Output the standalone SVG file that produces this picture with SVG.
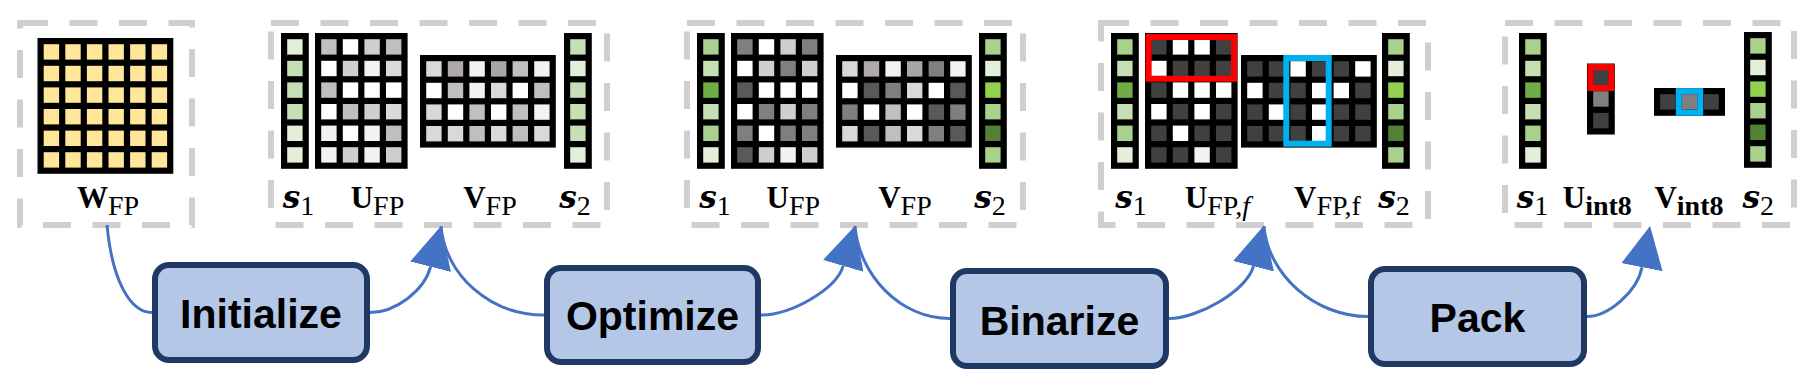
<svg xmlns="http://www.w3.org/2000/svg" width="1816" height="387" viewBox="0 0 1816 387">
<style>
.bg{fill:#fff}
.dash{fill:none;stroke:#D0CECE;stroke-width:6;stroke-dasharray:28 21.5}
.mx{fill:#000}
.proc{fill:#B4C7E7;stroke:#1F3864;stroke-width:6}
.ptxt{font-family:"Liberation Sans",Arial,sans-serif;font-weight:bold;font-size:41px;text-anchor:middle;fill:#000}
.lab{font-family:"Liberation Serif","Times New Roman",serif;font-size:31px;font-weight:bold;text-anchor:middle;fill:#000}
.si{font-family:"DejaVu Serif",serif;font-style:italic;font-weight:bold}
.sub{font-size:28px;font-weight:normal}
.subb{font-size:28px;font-weight:bold}
.ital{font-style:italic}
.conn{fill:none;stroke:#4472C4;stroke-width:3}
.red{fill:none;stroke:#FF0000;stroke-width:6}
.blue{fill:none;stroke:#00B0F0;stroke-width:6}
</style>
<defs>
<marker id="ah" markerUnits="userSpaceOnUse" markerWidth="42" markerHeight="42" refX="0" refY="21" orient="auto" viewBox="0 0 42 42"><path d="M0,0 L42,21 L0,42 Z" fill="#4472C4"/></marker>
<rect id="c" width="15.4" height="15.4"/>
</defs>
<rect class="bg" x="0" y="0" width="1816" height="387"/>

<g id="box-wfp">
<rect class="dash" x="20" y="23" width="172" height="202"/>
<rect class="mx" x="37.5" y="38" width="135.8" height="135.8"/>
<g fill="#FFE699">
<use href="#c" x="43.7" y="44.2"/><use href="#c" x="65.3" y="44.2"/><use href="#c" x="86.9" y="44.2"/><use href="#c" x="108.5" y="44.2"/><use href="#c" x="130.1" y="44.2"/><use href="#c" x="151.7" y="44.2"/>
<use href="#c" x="43.7" y="65.8"/><use href="#c" x="65.3" y="65.8"/><use href="#c" x="86.9" y="65.8"/><use href="#c" x="108.5" y="65.8"/><use href="#c" x="130.1" y="65.8"/><use href="#c" x="151.7" y="65.8"/>
<use href="#c" x="43.7" y="87.4"/><use href="#c" x="65.3" y="87.4"/><use href="#c" x="86.9" y="87.4"/><use href="#c" x="108.5" y="87.4"/><use href="#c" x="130.1" y="87.4"/><use href="#c" x="151.7" y="87.4"/>
<use href="#c" x="43.7" y="109"/><use href="#c" x="65.3" y="109"/><use href="#c" x="86.9" y="109"/><use href="#c" x="108.5" y="109"/><use href="#c" x="130.1" y="109"/><use href="#c" x="151.7" y="109"/>
<use href="#c" x="43.7" y="130.6"/><use href="#c" x="65.3" y="130.6"/><use href="#c" x="86.9" y="130.6"/><use href="#c" x="108.5" y="130.6"/><use href="#c" x="130.1" y="130.6"/><use href="#c" x="151.7" y="130.6"/>
<use href="#c" x="43.7" y="152.2"/><use href="#c" x="65.3" y="152.2"/><use href="#c" x="86.9" y="152.2"/><use href="#c" x="108.5" y="152.2"/><use href="#c" x="130.1" y="152.2"/><use href="#c" x="151.7" y="152.2"/>
</g>
<text class="lab" x="108" y="208">W<tspan class="sub" dy="7">FP</tspan></text>
</g>

<g id="box-init-result">
<rect class="dash" x="271" y="23" width="336" height="202"/>
<rect class="mx" x="281" y="33" width="27.8" height="135.8"/>
<use href="#c" x="287.2" y="39.2" fill="#E2F0D9"/><use href="#c" x="287.2" y="60.8" fill="#C5E0B4"/><use href="#c" x="287.2" y="82.4" fill="#C5E0B4"/><use href="#c" x="287.2" y="104" fill="#C5E0B4"/><use href="#c" x="287.2" y="125.6" fill="#E2F0D9"/><use href="#c" x="287.2" y="147.2" fill="#E2F0D9"/>
<rect class="mx" x="315" y="33" width="92.6" height="135.8"/>
<use href="#c" x="321.2" y="39.2" fill="#BFBFBF"/><use href="#c" x="342.8" y="39.2" fill="#FFFFFF"/><use href="#c" x="364.4" y="39.2" fill="#D0CECE"/><use href="#c" x="386" y="39.2" fill="#BFBFBF"/>
<use href="#c" x="321.2" y="60.8" fill="#FFFFFF"/><use href="#c" x="342.8" y="60.8" fill="#D0CECE"/><use href="#c" x="364.4" y="60.8" fill="#F2F2F2"/><use href="#c" x="386" y="60.8" fill="#D9D9D9"/>
<use href="#c" x="321.2" y="82.4" fill="#BFBFBF"/><use href="#c" x="342.8" y="82.4" fill="#FFFFFF"/><use href="#c" x="364.4" y="82.4" fill="#FFFFFF"/><use href="#c" x="386" y="82.4" fill="#FFFFFF"/>
<use href="#c" x="321.2" y="104" fill="#FFFFFF"/><use href="#c" x="342.8" y="104" fill="#BFBFBF"/><use href="#c" x="364.4" y="104" fill="#D0CECE"/><use href="#c" x="386" y="104" fill="#D9D9D9"/>
<use href="#c" x="321.2" y="125.6" fill="#F2F2F2"/><use href="#c" x="342.8" y="125.6" fill="#FFFFFF"/><use href="#c" x="364.4" y="125.6" fill="#F2F2F2"/><use href="#c" x="386" y="125.6" fill="#BFBFBF"/>
<use href="#c" x="321.2" y="147.2" fill="#F2F2F2"/><use href="#c" x="342.8" y="147.2" fill="#D0CECE"/><use href="#c" x="364.4" y="147.2" fill="#F2F2F2"/><use href="#c" x="386" y="147.2" fill="#D0CECE"/>
<rect class="mx" x="420" y="55" width="135.8" height="92.6"/>
<use href="#c" x="426.2" y="61.2" fill="#D9D9D9"/><use href="#c" x="447.8" y="61.2" fill="#AEAAAA"/><use href="#c" x="469.4" y="61.2" fill="#F2F2F2"/><use href="#c" x="491" y="61.2" fill="#A6A6A6"/><use href="#c" x="512.6" y="61.2" fill="#BFBFBF"/><use href="#c" x="534.2" y="61.2" fill="#F2F2F2"/>
<use href="#c" x="426.2" y="82.8" fill="#FFFFFF"/><use href="#c" x="447.8" y="82.8" fill="#BFBFBF"/><use href="#c" x="469.4" y="82.8" fill="#F2F2F2"/><use href="#c" x="491" y="82.8" fill="#D9D9D9"/><use href="#c" x="512.6" y="82.8" fill="#FFFFFF"/><use href="#c" x="534.2" y="82.8" fill="#BFBFBF"/>
<use href="#c" x="426.2" y="104.4" fill="#D9D9D9"/><use href="#c" x="447.8" y="104.4" fill="#FFFFFF"/><use href="#c" x="469.4" y="104.4" fill="#BFBFBF"/><use href="#c" x="491" y="104.4" fill="#FFFFFF"/><use href="#c" x="512.6" y="104.4" fill="#BFBFBF"/><use href="#c" x="534.2" y="104.4" fill="#F2F2F2"/>
<use href="#c" x="426.2" y="126" fill="#D9D9D9"/><use href="#c" x="447.8" y="126" fill="#D9D9D9"/><use href="#c" x="469.4" y="126" fill="#BFBFBF"/><use href="#c" x="491" y="126" fill="#D9D9D9"/><use href="#c" x="512.6" y="126" fill="#BFBFBF"/><use href="#c" x="534.2" y="126" fill="#D9D9D9"/>
<rect class="mx" x="564" y="33" width="27.8" height="135.8"/>
<use href="#c" x="570.2" y="39.2" fill="#C5E0B4"/><use href="#c" x="570.2" y="60.8" fill="#E2F0D9"/><use href="#c" x="570.2" y="82.4" fill="#C5E0B4"/><use href="#c" x="570.2" y="104" fill="#C5E0B4"/><use href="#c" x="570.2" y="125.6" fill="#C5E0B4"/><use href="#c" x="570.2" y="147.2" fill="#E2F0D9"/>
<text class="lab" x="298.5" y="207.5"><tspan class="si">s</tspan><tspan class="sub" dy="7">1</tspan></text>
<text class="lab" x="377.5" y="207.5">U<tspan class="sub" dy="7">FP</tspan></text>
<text class="lab" x="490" y="207.5">V<tspan class="sub" dy="7">FP</tspan></text>
<text class="lab" x="575" y="207.5"><tspan class="si">s</tspan><tspan class="sub" dy="7">2</tspan></text>
</g>

<g id="box-opt-result">
<rect class="dash" x="687" y="23" width="336" height="202"/>
<rect class="mx" x="697" y="33" width="27.8" height="135.8"/>
<use href="#c" x="703.2" y="39.2" fill="#A9D18E"/><use href="#c" x="703.2" y="60.8" fill="#C5E0B4"/><use href="#c" x="703.2" y="82.4" fill="#70AD47"/><use href="#c" x="703.2" y="104" fill="#C5E0B4"/><use href="#c" x="703.2" y="125.6" fill="#A9D18E"/><use href="#c" x="703.2" y="147.2" fill="#E2F0D9"/>
<rect class="mx" x="731" y="33" width="92.6" height="135.8"/>
<use href="#c" x="737.2" y="39.2" fill="#7F7F7F"/><use href="#c" x="758.8" y="39.2" fill="#FFFFFF"/><use href="#c" x="780.4" y="39.2" fill="#D0CECE"/><use href="#c" x="802" y="39.2" fill="#7F7F7F"/>
<use href="#c" x="737.2" y="60.8" fill="#FFFFFF"/><use href="#c" x="758.8" y="60.8" fill="#D0CECE"/><use href="#c" x="780.4" y="60.8" fill="#7F7F7F"/><use href="#c" x="802" y="60.8" fill="#D0CECE"/>
<use href="#c" x="737.2" y="82.4" fill="#595959"/><use href="#c" x="758.8" y="82.4" fill="#FFFFFF"/><use href="#c" x="780.4" y="82.4" fill="#FFFFFF"/><use href="#c" x="802" y="82.4" fill="#FFFFFF"/>
<use href="#c" x="737.2" y="104" fill="#FFFFFF"/><use href="#c" x="758.8" y="104" fill="#7F7F7F"/><use href="#c" x="780.4" y="104" fill="#D0CECE"/><use href="#c" x="802" y="104" fill="#7F7F7F"/>
<use href="#c" x="737.2" y="125.6" fill="#7F7F7F"/><use href="#c" x="758.8" y="125.6" fill="#FFFFFF"/><use href="#c" x="780.4" y="125.6" fill="#7F7F7F"/><use href="#c" x="802" y="125.6" fill="#7F7F7F"/>
<use href="#c" x="737.2" y="147.2" fill="#595959"/><use href="#c" x="758.8" y="147.2" fill="#D0CECE"/><use href="#c" x="780.4" y="147.2" fill="#F2F2F2"/><use href="#c" x="802" y="147.2" fill="#D0CECE"/>
<rect class="mx" x="836" y="55" width="135.8" height="92.6"/>
<use href="#c" x="842.2" y="61.2" fill="#D9D9D9"/><use href="#c" x="863.8" y="61.2" fill="#AEAAAA"/><use href="#c" x="885.4" y="61.2" fill="#F2F2F2"/><use href="#c" x="907" y="61.2" fill="#A6A6A6"/><use href="#c" x="928.6" y="61.2" fill="#7F7F7F"/><use href="#c" x="950.2" y="61.2" fill="#F2F2F2"/>
<use href="#c" x="842.2" y="82.8" fill="#FFFFFF"/><use href="#c" x="863.8" y="82.8" fill="#595959"/><use href="#c" x="885.4" y="82.8" fill="#7F7F7F"/><use href="#c" x="907" y="82.8" fill="#D9D9D9"/><use href="#c" x="928.6" y="82.8" fill="#FFFFFF"/><use href="#c" x="950.2" y="82.8" fill="#595959"/>
<use href="#c" x="842.2" y="104.4" fill="#7F7F7F"/><use href="#c" x="863.8" y="104.4" fill="#FFFFFF"/><use href="#c" x="885.4" y="104.4" fill="#BFBFBF"/><use href="#c" x="907" y="104.4" fill="#FFFFFF"/><use href="#c" x="928.6" y="104.4" fill="#595959"/><use href="#c" x="950.2" y="104.4" fill="#7F7F7F"/>
<use href="#c" x="842.2" y="126" fill="#D9D9D9"/><use href="#c" x="863.8" y="126" fill="#595959"/><use href="#c" x="885.4" y="126" fill="#BFBFBF"/><use href="#c" x="907" y="126" fill="#D9D9D9"/><use href="#c" x="928.6" y="126" fill="#7F7F7F"/><use href="#c" x="950.2" y="126" fill="#595959"/>
<rect class="mx" x="979" y="33" width="27.8" height="135.8"/>
<use href="#c" x="985.2" y="39.2" fill="#A9D18E"/><use href="#c" x="985.2" y="60.8" fill="#E2F0D9"/><use href="#c" x="985.2" y="82.4" fill="#92D050"/><use href="#c" x="985.2" y="104" fill="#A9D18E"/><use href="#c" x="985.2" y="125.6" fill="#548235"/><use href="#c" x="985.2" y="147.2" fill="#A9D18E"/>
<text class="lab" x="715" y="207.5"><tspan class="si">s</tspan><tspan class="sub" dy="7">1</tspan></text>
<text class="lab" x="793.3" y="207.5">U<tspan class="sub" dy="7">FP</tspan></text>
<text class="lab" x="905" y="207.5">V<tspan class="sub" dy="7">FP</tspan></text>
<text class="lab" x="990" y="207.5"><tspan class="si">s</tspan><tspan class="sub" dy="7">2</tspan></text>
</g>

<g id="box-bin-result">
<rect class="dash" x="1101" y="23" width="327" height="202"/>
<rect class="mx" x="1111" y="33" width="27.8" height="135.8"/>
<use href="#c" x="1117.2" y="39.2" fill="#A9D18E"/><use href="#c" x="1117.2" y="60.8" fill="#C5E0B4"/><use href="#c" x="1117.2" y="82.4" fill="#70AD47"/><use href="#c" x="1117.2" y="104" fill="#C5E0B4"/><use href="#c" x="1117.2" y="125.6" fill="#A9D18E"/><use href="#c" x="1117.2" y="147.2" fill="#E2F0D9"/>
<rect class="mx" x="1145" y="33" width="92.6" height="135.8"/>
<use href="#c" x="1151.2" y="39.2" fill="#404040"/><use href="#c" x="1172.8" y="39.2" fill="#FFFFFF"/><use href="#c" x="1194.4" y="39.2" fill="#FFFFFF"/><use href="#c" x="1216" y="39.2" fill="#404040"/>
<use href="#c" x="1151.2" y="60.8" fill="#FFFFFF"/><use href="#c" x="1172.8" y="60.8" fill="#404040"/><use href="#c" x="1194.4" y="60.8" fill="#404040"/><use href="#c" x="1216" y="60.8" fill="#404040"/>
<use href="#c" x="1151.2" y="82.4" fill="#404040"/><use href="#c" x="1172.8" y="82.4" fill="#FFFFFF"/><use href="#c" x="1194.4" y="82.4" fill="#FFFFFF"/><use href="#c" x="1216" y="82.4" fill="#FFFFFF"/>
<use href="#c" x="1151.2" y="104" fill="#FFFFFF"/><use href="#c" x="1172.8" y="104" fill="#404040"/><use href="#c" x="1194.4" y="104" fill="#FFFFFF"/><use href="#c" x="1216" y="104" fill="#404040"/>
<use href="#c" x="1151.2" y="125.6" fill="#404040"/><use href="#c" x="1172.8" y="125.6" fill="#FFFFFF"/><use href="#c" x="1194.4" y="125.6" fill="#404040"/><use href="#c" x="1216" y="125.6" fill="#404040"/>
<use href="#c" x="1151.2" y="147.2" fill="#404040"/><use href="#c" x="1172.8" y="147.2" fill="#404040"/><use href="#c" x="1194.4" y="147.2" fill="#F2F2F2"/><use href="#c" x="1216" y="147.2" fill="#404040"/>
<rect class="mx" x="1241" y="55" width="135.8" height="92.6"/>
<use href="#c" x="1247.2" y="61.2" fill="#404040"/><use href="#c" x="1268.8" y="61.2" fill="#404040"/><use href="#c" x="1290.4" y="61.2" fill="#FFFFFF"/><use href="#c" x="1312" y="61.2" fill="#404040"/><use href="#c" x="1333.6" y="61.2" fill="#404040"/><use href="#c" x="1355.2" y="61.2" fill="#FFFFFF"/>
<use href="#c" x="1247.2" y="82.8" fill="#FFFFFF"/><use href="#c" x="1268.8" y="82.8" fill="#404040"/><use href="#c" x="1290.4" y="82.8" fill="#404040"/><use href="#c" x="1312" y="82.8" fill="#FFFFFF"/><use href="#c" x="1333.6" y="82.8" fill="#FFFFFF"/><use href="#c" x="1355.2" y="82.8" fill="#404040"/>
<use href="#c" x="1247.2" y="104.4" fill="#404040"/><use href="#c" x="1268.8" y="104.4" fill="#FFFFFF"/><use href="#c" x="1290.4" y="104.4" fill="#404040"/><use href="#c" x="1312" y="104.4" fill="#FFFFFF"/><use href="#c" x="1333.6" y="104.4" fill="#404040"/><use href="#c" x="1355.2" y="104.4" fill="#404040"/>
<use href="#c" x="1247.2" y="126" fill="#404040"/><use href="#c" x="1268.8" y="126" fill="#404040"/><use href="#c" x="1290.4" y="126" fill="#404040"/><use href="#c" x="1312" y="126" fill="#FFFFFF"/><use href="#c" x="1333.6" y="126" fill="#404040"/><use href="#c" x="1355.2" y="126" fill="#404040"/>
<rect class="mx" x="1382" y="33" width="27.8" height="135.8"/>
<use href="#c" x="1388.2" y="39.2" fill="#A9D18E"/><use href="#c" x="1388.2" y="60.8" fill="#E2F0D9"/><use href="#c" x="1388.2" y="82.4" fill="#92D050"/><use href="#c" x="1388.2" y="104" fill="#A9D18E"/><use href="#c" x="1388.2" y="125.6" fill="#548235"/><use href="#c" x="1388.2" y="147.2" fill="#A9D18E"/>
<rect class="red" x="1148.5" y="37" width="85.5" height="41.7"/>
<rect class="blue" x="1286.3" y="58" width="42.4" height="85.7"/>
<text class="lab" x="1131" y="207.5"><tspan class="si">s</tspan><tspan class="sub" dy="7">1</tspan></text>
<text class="lab" x="1217.5" y="207.5">U<tspan class="sub" dy="7">FP,</tspan><tspan class="sub ital">f</tspan></text>
<text class="lab" x="1327.5" y="207.5">V<tspan class="sub" dy="7">FP,f</tspan></text>
<text class="lab" x="1394" y="207.5"><tspan class="si">s</tspan><tspan class="sub" dy="7">2</tspan></text>
</g>

<g id="box-pack-result">
<rect class="dash" x="1505" y="23" width="289" height="202"/>
<rect class="mx" x="1519" y="33" width="27.8" height="135.8"/>
<use href="#c" x="1525.2" y="39.2" fill="#A9D18E"/><use href="#c" x="1525.2" y="60.8" fill="#C5E0B4"/><use href="#c" x="1525.2" y="82.4" fill="#70AD47"/><use href="#c" x="1525.2" y="104" fill="#C5E0B4"/><use href="#c" x="1525.2" y="125.6" fill="#A9D18E"/><use href="#c" x="1525.2" y="147.2" fill="#E2F0D9"/>
<rect class="mx" x="1587" y="63.5" width="27.8" height="71"/>
<use href="#c" x="1593.2" y="69.7" fill="#404040"/><use href="#c" x="1593.2" y="91.3" fill="#7F7F7F"/><use href="#c" x="1593.2" y="112.9" fill="#404040"/>
<rect class="mx" x="1654" y="88" width="71" height="27.8"/>
<use href="#c" x="1660.2" y="94.2" fill="#404040"/><use href="#c" x="1681.8" y="94.2" fill="#7F7F7F"/><use href="#c" x="1703.4" y="94.2" fill="#404040"/>
<rect class="mx" x="1744" y="32" width="27.8" height="135.8"/>
<use href="#c" x="1750.2" y="38.2" fill="#A9D18E"/><use href="#c" x="1750.2" y="59.8" fill="#E2F0D9"/><use href="#c" x="1750.2" y="81.4" fill="#92D050"/><use href="#c" x="1750.2" y="103" fill="#A9D18E"/><use href="#c" x="1750.2" y="124.6" fill="#548235"/><use href="#c" x="1750.2" y="146.2" fill="#A9D18E"/>
<rect class="red" x="1590.5" y="67" width="20.8" height="21"/>
<rect class="blue" x="1678.8" y="91.1" width="21.4" height="21.6"/>
<text class="lab" x="1532.5" y="207.5"><tspan class="si">s</tspan><tspan class="sub" dy="7">1</tspan></text>
<text class="lab" x="1597.3" y="207.5">U<tspan class="subb" dy="7">int8</tspan></text>
<text class="lab" x="1689" y="207.5">V<tspan class="subb" dy="7">int8</tspan></text>
<text class="lab" x="1758.3" y="207.5"><tspan class="si">s</tspan><tspan class="sub" dy="7">2</tspan></text>
</g>

<g id="connectors">
<path class="conn" d="M107,225 C112,280 130,312.5 152,312.5"/>
<path class="conn" d="M370,312.5 C395,312.5 424.4,290.9 430.6,266.7" marker-end="url(#ah)"/>
<path class="conn" d="M441,226 C445,275 490,315 544,315"/>
<path class="conn" d="M761,315 C790,315 836.1,289.9 843.2,265.9" marker-end="url(#ah)"/>
<path class="conn" d="M855,226 C859,275 900,318.5 950,318.5"/>
<path class="conn" d="M1169,318.5 C1198,318.5 1247.3,290.4 1253.5,266.2" marker-end="url(#ah)"/>
<path class="conn" d="M1264,226 C1268,275 1315,316.5 1368,316.5"/>
<path class="conn" d="M1587,316.5 C1608,316.5 1637.2,291.7 1642,267.2" marker-end="url(#ah)"/>
</g>

<g id="node-initialize">
<rect class="proc" x="155" y="265" width="212" height="95" rx="14"/>
<text class="ptxt" x="261" y="328">Initialize</text>
</g>
<g id="node-optimize">
<rect class="proc" x="547" y="268" width="211" height="94" rx="14"/>
<text class="ptxt" x="652.5" y="330">Optimize</text>
</g>
<g id="node-binarize">
<rect class="proc" x="953" y="271" width="213" height="95" rx="14"/>
<text class="ptxt" x="1059.5" y="334.5">Binarize</text>
</g>
<g id="node-pack">
<rect class="proc" x="1371" y="269" width="213" height="95" rx="14"/>
<text class="ptxt" x="1477.5" y="332">Pack</text>
</g>
</svg>
